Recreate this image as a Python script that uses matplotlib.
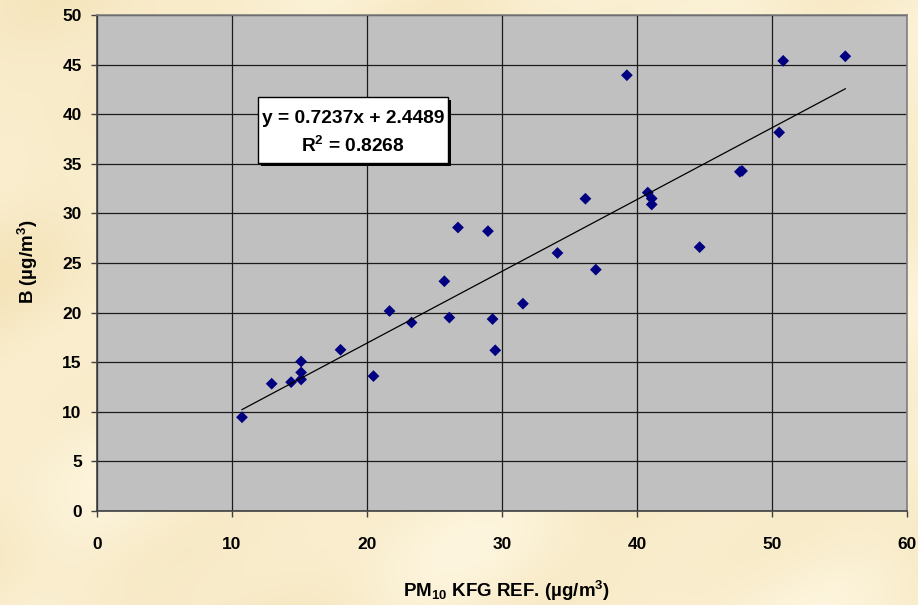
import numpy as np
import matplotlib
matplotlib.use("Agg")
import matplotlib.pyplot as plt
from matplotlib.patches import Rectangle

plt.rcParams['font.family'] = ['Liberation Sans', 'DejaVu Sans']
plt.rcParams['font.weight'] = 'bold'
plt.rcParams['mathtext.fontset'] = 'custom'
plt.rcParams['mathtext.rm'] = 'Liberation Sans:bold'
plt.rcParams['mathtext.it'] = 'Liberation Sans:bold'
plt.rcParams['mathtext.bf'] = 'Liberation Sans:bold'
plt.rcParams['mathtext.default'] = 'rm'

# Paired measurements: reference PM10 vs. instrument B (µg/m³)
pm10_ref = [10.74, 12.94, 14.38, 15.12, 15.12, 15.12, 18.04, 20.48, 21.67, 23.30,
            25.73, 26.10, 26.74, 28.96, 29.30, 29.50, 31.55, 34.11, 36.18, 36.95,
            39.25, 40.80, 41.09, 41.09, 44.64, 47.62, 47.78, 50.53, 50.83, 55.43]
b_vals = [9.45, 12.83, 12.99, 13.26, 13.97, 15.07, 16.25, 13.60, 20.16, 19.00,
          23.16, 19.50, 28.58, 28.21, 19.35, 16.20, 20.90, 26.01, 31.48, 24.33,
          43.93, 32.10, 31.50, 30.90, 26.60, 34.20, 34.28, 38.16, 45.38, 45.84]

# Linear trend line reported on the chart
slope = 0.7237
intercept = 2.4489
r_squared = 0.8268

x_ticks = [0, 10, 20, 30, 40, 50, 60]
y_ticks = [0, 5, 10, 15, 20, 25, 30, 35, 40, 45, 50]

W, H, DPI = 918, 605, 100
fig = plt.figure(figsize=(W / DPI, H / DPI), dpi=DPI)

# Parchment-like backdrop
yy, xx = np.mgrid[0:H, 0:W] / 100.0
tex = (np.sin(xx * 1.7 + yy * 0.6) * 0.35 + np.sin(xx * 0.5 - yy * 2.1 + 1.3) * 0.3
       + np.sin(xx * 3.1 + yy * 2.7 + 0.4) * 0.2 + np.sin(xx * 0.9 + yy * 4.3 + 2.2) * 0.15)
tex = (tex - tex.min()) / (tex.max() - tex.min())
light = np.array([253, 245, 222]) / 255.0
dark = np.array([245, 228, 186]) / 255.0
bg = light[None, None, :] * (1 - tex[..., None]) + dark[None, None, :] * tex[..., None]
bg_ax = fig.add_axes([0, 0, 1, 1], zorder=-10)
bg_ax.imshow(bg, aspect='auto', interpolation='bilinear')
bg_ax.axis('off')

ax = fig.add_axes([97 / W, 1 - 511 / H, (907 - 97) / W, (511 - 15) / H])
ax.set_facecolor('#C0C0C0')
ax.set_xlim(0, 60)
ax.set_ylim(0, 50)
ax.set_xticks(x_ticks)
ax.set_yticks(y_ticks)
ax.grid(True, color='#1c1c1c', linewidth=0.9)
ax.set_axisbelow(True)

for side in ('left', 'bottom'):
    ax.spines[side].set_color('#404040')
    ax.spines[side].set_linewidth(1.2)
for side in ('top', 'right'):
    ax.spines[side].set_color('#808080')
    ax.spines[side].set_linewidth(1.2)

ax.tick_params(axis='both', direction='out', length=4, width=1, color='#404040',
               labelsize=12.5)
ax.tick_params(axis='y', pad=7)
ax.tick_params(axis='x', pad=15)
for lab in ax.get_xticklabels() + ax.get_yticklabels():
    lab.set_fontweight('bold')

ax.scatter(pm10_ref, b_vals, marker='D', s=36, color='#000080', edgecolors='none',
           zorder=3)

xl = np.array([min(pm10_ref), max(pm10_ref)])
ax.plot(xl, slope * xl + intercept, color='black', linewidth=0.9, zorder=4)

# Equation box with drop shadow
bx0, bx1, by0, by1 = 11.93, 26.0, 35.08, 41.73
dx, dy = 3 / 13.5, 3 / 9.92
ax.add_patch(Rectangle((bx0 + dx, by0 - dy), bx1 - bx0, by1 - by0,
                       facecolor='black', edgecolor='none', zorder=5))
ax.add_patch(Rectangle((bx0, by0), bx1 - bx0, by1 - by0,
                       facecolor='white', edgecolor='black', linewidth=1, zorder=6))
xc = (bx0 + bx1) / 2
ax.text(xc, 39.6, f"y = {slope:.4f}x + {intercept:.4f}", ha='center', va='center',
        fontsize=13.8, fontweight='bold', zorder=7)
ax.text(xc, 36.8, f"R$^2$ = {r_squared:.4f}", ha='center', va='center',
        fontsize=13.8, fontweight='bold', zorder=7)

fig.text(506 / W, 1 - 591 / H, "PM$_{10}$ KFG REF. (µg/m$^3$)", ha='center',
         va='center', fontsize=13.5, fontweight='bold')
fig.text(28 / W, 1 - 262 / H, "B (µg/m$^3$)", ha='center', va='center',
         rotation=90, fontsize=13.5, fontweight='bold')

fig.savefig('out.png', dpi=DPI)
